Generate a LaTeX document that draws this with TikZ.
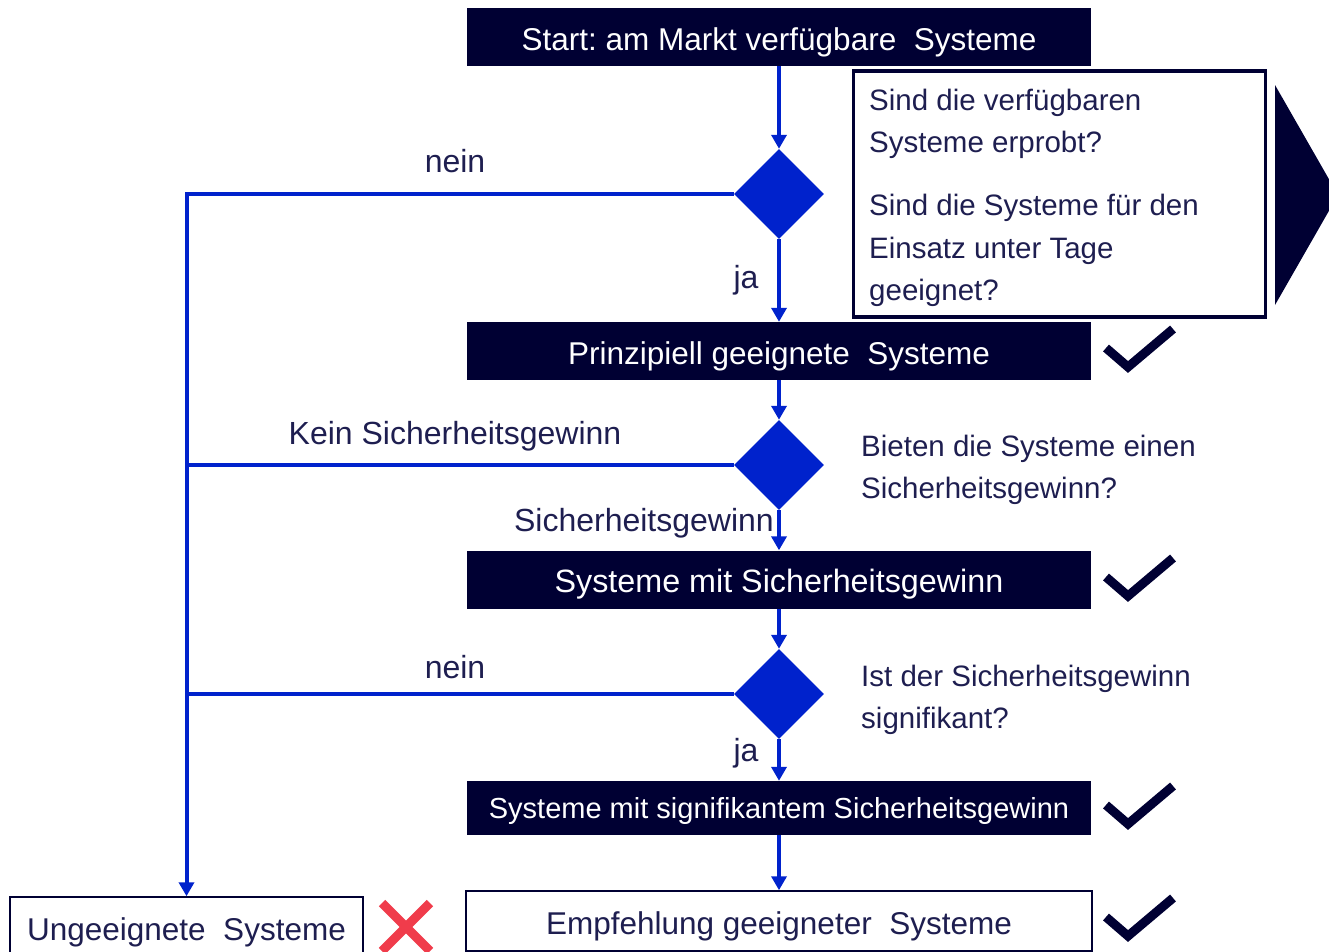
\documentclass[tikz,border=0pt]{standalone}
\usepackage{fontspec}
\setmainfont{Liberation Sans}
\usetikzlibrary{shapes.geometric,arrows.meta}
\definecolor{navy}{RGB}{0,0,51}
\definecolor{flowblue}{RGB}{0,34,204}
\definecolor{txt}{RGB}{30,30,80}
\definecolor{xred}{RGB}{240,60,75}
\frenchspacing
\begin{document}
\begin{tikzpicture}[x=1pt,y=-1pt,
  darkbox/.style={fill=navy,text=white,minimum width=624pt,minimum height=58pt,inner sep=0pt,text height=26pt,text depth=0pt,font=\fontsize{31.5}{36}\selectfont},
  lightbox/.style={draw=navy,line width=1.5pt,fill=white,text=txt,inner sep=0pt,text height=26pt,text depth=0pt,font=\fontsize{31.5}{36}\selectfont},
  decision/.style={diamond,fill=flowblue,minimum width=90pt,minimum height=90pt,inner sep=0pt},
  flow/.style={draw=flowblue,line width=4pt},
  flowarrow/.style={flow,-{Triangle[length=14pt,width=15pt]}},
  lbl/.style={text=txt,font=\fontsize{32}{36}\selectfont,inner sep=0pt},
  qtext/.style={text=txt,font=\fontsize{29.5}{34}\selectfont,inner sep=0pt,anchor=base west},
  checkmark/.style={draw=navy,line width=9pt,miter limit=10},
  crossmark/.style={draw=xred,line width=9pt}
]
\useasboundingbox (0,0) rectangle (1329,951);
\begin{scope}
\clip (0,0) rectangle (1329,951);
% triangle at right
\fill[navy] (1275,85) -- (1338,195) -- (1275,305) -- cycle;

% main boxes
\node[darkbox] (start) at (779,37) {Start: am Markt verfügbare \ Systeme};
\node[decision] (d1) at (779,194) {};
\node[darkbox] (b2) at (779,351) {Prinzipiell geeignete \ Systeme};
\node[decision] (d2) at (779,465) {};
\node[darkbox,font=\fontsize{32.3}{36}\selectfont] (b3) at (779,579.5) {Systeme mit Sicherheitsgewinn};
\node[decision] (d3) at (779,694) {};
\node[darkbox,minimum height=54pt,text height=20pt,font=\fontsize{29}{34}\selectfont] (b4) at (779,808) {Systeme mit signifikantem Sicherheitsgewinn};
\node[lightbox,minimum width=626pt,minimum height=60pt] (b5) at (779,921) {Empfehlung geeigneter \ Systeme};
\node[lightbox,minimum width=353pt,minimum height=60pt] (ung) at (186.5,927) {Ungeeignete \ Systeme};

% question box 1
\node[draw=navy,line width=3.5pt,fill=white,minimum width=412pt,minimum height=246pt,inner sep=0pt] (q1) at (1059.5,194) {};
\node[qtext] (q1a) at (869,110) {Sind die verfügbaren};
\node[qtext] (q1b) at (869,152) {Systeme erprobt?};
\node[qtext] (q1c) at (869,215) {Sind die Systeme für den};
\node[qtext] (q1d) at (869,258) {Einsatz unter Tage};
\node[qtext] (q1e) at (869,300) {geeignet?};

% question 2, 3
\node[qtext] (q2a) at (861,456) {Bieten die Systeme einen};
\node[qtext] (q2b) at (861,498) {Sicherheitsgewinn?};
\node[qtext] (q3a) at (861,686) {Ist der Sicherheitsgewinn};
\node[qtext] (q3b) at (861,728) {signifikant?};

% labels
\node[lbl,anchor=base] (l1) at (455,172) {nein};
\node[lbl,anchor=base] (l2) at (746,288) {ja};
\node[lbl,anchor=base] (l3) at (455,444) {Kein Sicherheitsgewinn};
\node[lbl,anchor=base east] (l4) at (774,531) {Sicherheitsgewinn};
\node[lbl,anchor=base] (l5) at (455,678) {nein};
\node[lbl,anchor=base] (l6) at (746,761) {ja};

% connectors
\draw[flowarrow] (start.south) -- (d1.north);
\draw[flowarrow] (d1.south) -- (b2.north);
\draw[flowarrow] (b2.south) -- (d2.north);
\draw[flowarrow] (d2.south) -- (b3.north);
\draw[flowarrow] (b3.south) -- (d3.north);
\draw[flowarrow] (d3.south) -- (b4.north);
\draw[flowarrow] (b4.south) -- (b5.north);
\draw[flowarrow] (d1.west) -| (ung.north);
\coordinate (j2) at (d2.west -| ung.north);
\coordinate (j3) at (d3.west -| ung.north);
\draw[flow] (d2.west) -- (j2);
\draw[flow] (d3.west) -- (j3);

% check marks
\foreach \y/\n in {351/c1,580/c2,808/c3,920/c4}{
  \draw[checkmark] (1106,\y-3) -- (1128,\y+16) -- (1173,\y-22);
}
% cross
\draw[crossmark] (382,903) -- (430,951);
\draw[crossmark] (430,903) -- (382,951);
\end{scope}
\end{tikzpicture}
\end{document}
